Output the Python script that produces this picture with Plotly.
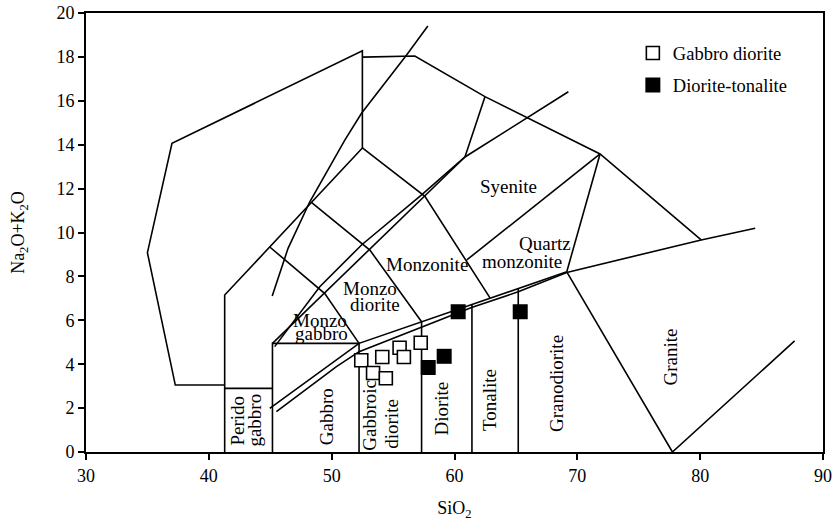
import plotly.graph_objects as go

# ---- sample analyses (SiO2 wt%, Na2O+K2O wt%) ----
gabbro_diorite_sio2 = [52.41, 53.37, 54.12, 54.41, 55.53, 55.88, 57.25]
gabbro_diorite_alk = [4.18, 3.60, 4.33, 3.36, 4.75, 4.33, 4.98]
diorite_tonalite_sio2 = [57.86, 59.16, 60.30, 65.35]
diorite_tonalite_alk = [3.85, 4.36, 6.39, 6.39]

# ---- field boundaries of the plutonic TAS classification ----
outer_x = [41.29, 37.27, 35.0, 37.0, 52.5, 52.5]
outer_y = [3.05, 3.05, 9.08, 14.06, 18.28, 13.85]
left_edge_x = [41.29, 41.29, 52.5]
left_edge_y = [0, 7.15, 13.85]
perido_top_x = [41.29, 45.18]
perido_top_y = [2.9, 2.9]
gabbro_box_x = [45.18, 45.18, 52.23, 52.23]
gabbro_box_y = [0, 4.95, 4.95, 0]
diorite_div_x = [57.32, 57.32]
diorite_div_y = [0, 5.93]
tonalite_div_x = [61.42, 61.42]
tonalite_div_y = [0, 6.72]
granodiorite_div_x = [65.19, 65.19]
granodiorite_div_y = [0, 7.45]
subalk_top_x = [44.96, 52.23, 69.14]
subalk_top_y = [1.99, 4.95, 8.21]
granite_x = [69.14, 77.74, 87.69]
granite_y = [8.21, 0, 5.06]
alk_curve_x = [45.5, 50.39, 52.23, 57.32, 61.39, 65.19, 69.14, 80.08, 84.48]
alk_curve_y = [1.84, 3.89, 4.57, 5.69, 6.58, 7.30, 8.18, 9.66, 10.19]
monzo_line_x = [45.18, 60.85]
monzo_line_y = [4.95, 13.44]
upper_curve_x = [45.36, 49.03, 52.43, 57.32, 60.85, 69.27]
upper_curve_y = [4.80, 7.53, 9.43, 11.71, 13.44, 16.41]
left_curve_x = [45.16, 46.45, 48.22, 49.85, 51.07, 52.43, 56.10, 57.83]
left_curve_y = [7.11, 9.28, 11.40, 13.0, 14.21, 15.43, 18.09, 19.41]
top_edge_x = [52.5, 56.77, 62.48, 71.85, 80.08]
top_edge_y = [17.99, 18.04, 16.19, 13.58, 9.66]
short_div_x = [62.48, 60.85]
short_div_y = [16.19, 13.44]
syenite_div_x = [61.0, 71.85]
syenite_div_y = [8.75, 13.58]
qmonz_div_x = [71.85, 69.14]
qmonz_div_y = [13.58, 8.21]
monzonite_div_x = [52.5, 57.59, 62.89]
monzonite_div_y = [13.85, 11.65, 7.02]
monzodiorite_div_x = [48.35, 53.11, 57.32]
monzodiorite_div_y = [11.37, 9.2, 5.93]
monzogabbro_div_x = [44.96, 49.44, 52.23]
monzogabbro_div_y = [9.34, 7.22, 4.95]

boundaries = [
    (outer_x, outer_y), (left_edge_x, left_edge_y), (perido_top_x, perido_top_y),
    (gabbro_box_x, gabbro_box_y), (diorite_div_x, diorite_div_y),
    (tonalite_div_x, tonalite_div_y), (granodiorite_div_x, granodiorite_div_y),
    (subalk_top_x, subalk_top_y), (granite_x, granite_y), (alk_curve_x, alk_curve_y),
    (monzo_line_x, monzo_line_y), (upper_curve_x, upper_curve_y),
    (left_curve_x, left_curve_y), (top_edge_x, top_edge_y), (short_div_x, short_div_y),
    (syenite_div_x, syenite_div_y), (qmonz_div_x, qmonz_div_y),
    (monzonite_div_x, monzonite_div_y), (monzodiorite_div_x, monzodiorite_div_y),
    (monzogabbro_div_x, monzogabbro_div_y),
]

# ---- field names: text, SiO2, alkali, angle ----
field_names = ["Syenite", "Monzonite", "Quartz", "monzonite", "Monzo", "diorite",
               "Monzo", "gabbro", "Perido", "gabbro", "Gabbro", "Gabbroic", "diorite",
               "Diorite", "Tonalite", "Granodiorite", "Granite"]
field_x = [64.38, 57.78, 67.37, 65.53, 53.11, 53.51, 49.03, 49.17, 42.37, 43.73,
           49.58, 53.11, 54.87, 58.95, 62.89, 68.32, 77.55]
field_y = [12.09, 8.52, 9.51, 8.67, 7.46, 6.70, 6.01, 5.41, 1.43, 1.46,
           1.61, 1.69, 1.31, 1.96, 2.37, 3.13, 4.31]
field_angle = [0, 0, 0, 0, 0, 0, 0, 0, -90, -90, -90, -90, -90, -90, -90, -90, -90]

x_ticks = [30, 40, 50, 60, 70, 80, 90]
y_ticks = [0, 2, 4, 6, 8, 10, 12, 14, 16, 18, 20]

SERIF = "Liberation Serif, Times New Roman, serif"

fig = go.Figure()
for bx, by in boundaries:
    fig.add_trace(go.Scatter(x=bx, y=by, mode="lines", showlegend=False,
                             hoverinfo="skip",
                             line=dict(color="black", width=1.6)))

fig.add_trace(go.Scatter(
    x=gabbro_diorite_sio2, y=gabbro_diorite_alk, mode="markers",
    name="Gabbro diorite", legendgroup="a",
    marker=dict(symbol="square", size=13, color="white",
                line=dict(color="black", width=1.6))))
fig.add_trace(go.Scatter(
    x=diorite_tonalite_sio2, y=diorite_tonalite_alk, mode="markers",
    name="Diorite-tonalite", legendgroup="b",
    marker=dict(symbol="square", size=15, color="black",
                line=dict(color="black", width=0))))

for t, fx, fy, ang in zip(field_names, field_x, field_y, field_angle):
    fig.add_annotation(x=fx, y=fy, text=t, showarrow=False, textangle=ang,
                       font=dict(family=SERIF, size=19, color="black"))

axis_common = dict(showline=True, linecolor="black", linewidth=2, mirror=True,
                   ticks="outside", ticklen=6, tickwidth=1.6, tickcolor="black",
                   showgrid=False, zeroline=False, automargin=False,
                   tickfont=dict(family=SERIF, size=18, color="black"))

fig.update_xaxes(range=[30, 90], tickvals=x_ticks,
                 title=dict(text="SiO<sub>2</sub>", standoff=19,
                            font=dict(family=SERIF, size=18, color="black")),
                 **axis_common)
fig.update_yaxes(range=[0, 20], tickvals=y_ticks,
                 title=dict(text="Na<sub>2</sub>O+K<sub>2</sub>O", standoff=27,
                            font=dict(family=SERIF, size=18, color="black")),
                 **axis_common)

fig.update_layout(
    width=834, height=521,
    margin=dict(l=86, r=11, t=13, b=69, autoexpand=False),
    paper_bgcolor="white", plot_bgcolor="white",
    legend=dict(x=0.742, y=0.951, xanchor="left", yanchor="top",
                bgcolor="rgba(0,0,0,0)", traceorder="grouped", tracegroupgap=5,
                itemwidth=30,
                font=dict(family=SERIF, size=18.5, color="black")),
)

fig.write_html("out.html")
